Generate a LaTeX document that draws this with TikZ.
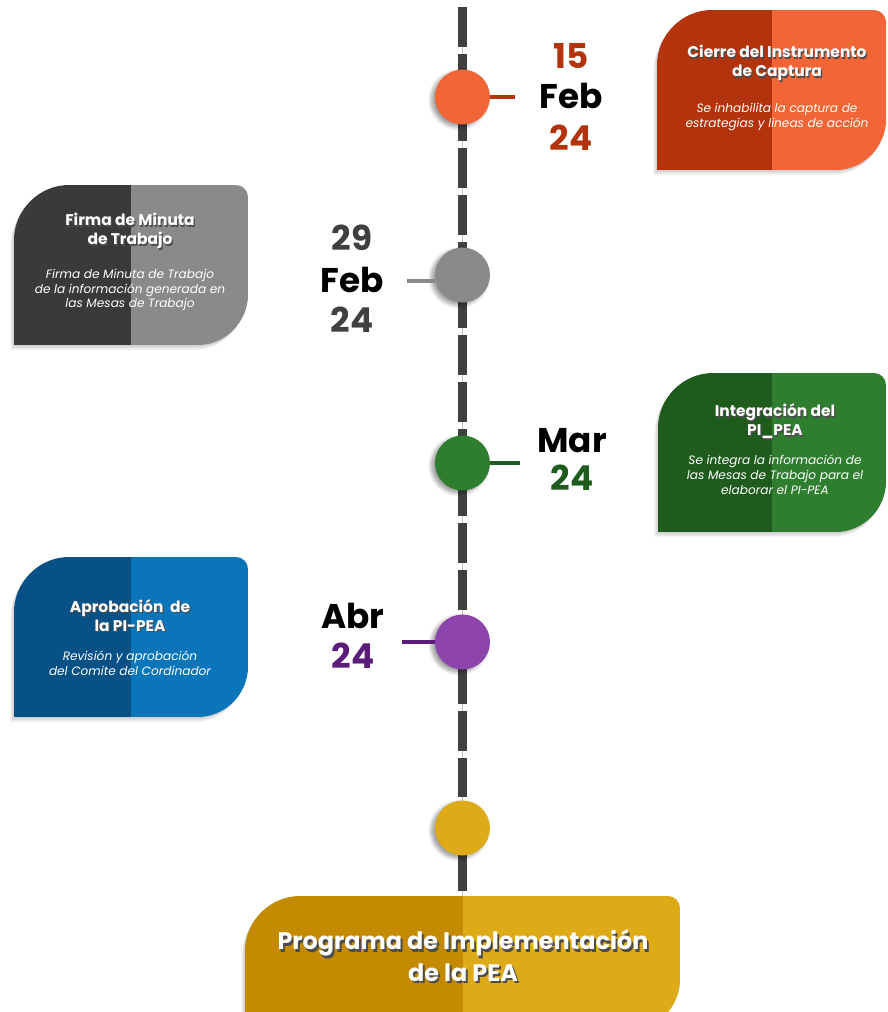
\documentclass[tikz,border=0pt]{standalone}
\usepackage{fontspec}
\setmainfont{Poppins}
\usetikzlibrary{shadows.blur}

\definecolor{lineagris}{HTML}{404040}
\definecolor{naranja}{HTML}{F26536}
\definecolor{naranjaosc}{HTML}{B3330C}
\definecolor{gris}{HTML}{8A8A8A}
\definecolor{grisosc}{HTML}{3B3A3A}
\definecolor{verde}{HTML}{2F7E2F}
\definecolor{verdeosc}{HTML}{1E5B1D}
\definecolor{azul}{HTML}{0B75BA}
\definecolor{azulosc}{HTML}{075186}
\definecolor{morado}{HTML}{8E44AD}
\definecolor{moradoosc}{HTML}{5B1C7B}
\definecolor{oro}{HTML}{DEAB18}
\definecolor{orooscuro}{HTML}{C48A02}

\newcommand{\sombra}[1]{\leavevmode\rlap{\kern0.08em\raisebox{-0.1em}{\textcolor{black!70}{#1}}}#1}

% caja con esquinas redondeadas arriba-izquierda y abajo-derecha
\newcommand{\hoja}[6]{%
  \pgfmathsetmacro{\mitad}{(#1+#3)/2}
  \foreach \s in {1,...,5}{
    \fill[black,opacity=0.04,xshift=-\s*0.4pt,yshift=-\s*0.6pt] (#1,#4) -- (#1,#2+55) .. controls +(0,-30) and +(-30,0) .. (#1+55,#2) -- (#3-12,#2) .. controls +(6.6,0) and +(0,-6.6) .. (#3,#2+12) -- (#3,#4-50) .. controls +(0,27) and +(27,0) .. (#3-50,#4) -- cycle;
  }
  \begin{scope}
    \clip (#1,#4) -- (#1,#2+55) .. controls +(0,-30) and +(-30,0) .. (#1+55,#2) -- (#3-12,#2) .. controls +(6.6,0) and +(0,-6.6) .. (#3,#2+12) -- (#3,#4-50) .. controls +(0,27) and +(27,0) .. (#3-50,#4) -- cycle;
    \fill[#5] (#1,#2) rectangle (\mitad,#4);
    \fill[#6] (\mitad,#2) rectangle (#3,#4);
  \end{scope}}

\begin{document}
\begin{tikzpicture}[x=0.02cm,y=-0.02cm,
  punto/.style={circle,minimum size=1.1cm,inner sep=0pt,
    blur shadow={shadow xshift=-2pt,shadow yshift=-1.5pt,shadow blur steps=6,shadow opacity=40}},
  enlace/.style={line width=2.2pt},
  linea/.style={line width=4.6pt,lineagris,dash pattern=on 22.7pt off 4pt},
  fecha/.style={font=\fontsize{19.5}{22}\selectfont\bfseries,anchor=base},
  titulo/.style={text=white,align=center,font=\fontsize{8.8}{10.9}\selectfont\bfseries},
  texto/.style={text=white,align=center,font=\fontsize{6.9}{8.5}\selectfont\itshape}]
  \useasboundingbox (0,0) rectangle (887,1012);

  \hoja{657}{10}{886}{170}{naranjaosc}{naranja}
  \hoja{14}{185}{248}{345}{grisosc}{gris}
  \hoja{658}{373}{886}{532}{verdeosc}{verde}
  \hoja{14}{557}{248}{717}{azulosc}{azul}
  \hoja{245}{896}{680}{1030}{orooscuro}{oro}

  \coordinate (arriba) at (462.5,7);
  \coordinate (abajo) at (462.5,896);
  \draw[black!25,line width=0.6pt] (arriba) -- (abajo);
  \draw[linea] (arriba) -- (abajo);

  \foreach \n/\y/\c in {p1/97/naranja, p2/275/gris, p3/463/verde, p4/642/morado, p5/828/oro}
    \node[punto,fill=\c] (\n) at (462.5,\y) {};

  \coordinate (f1) at (515,97);
  \coordinate (f2) at (407,281);
  \coordinate (f3) at (520,463);
  \coordinate (f4) at (402,642);
  \draw[enlace,naranjaosc] (p1.east) -- (f1);
  \draw[enlace,gris] (p2.west |- f2) -- (f2);
  \draw[enlace,verdeosc] (p3.east) -- (f3);
  \draw[enlace,moradoosc] (p4.west) -- (f4);

  \node[fecha,text=naranjaosc] (dia1) at (571,68) {15};
  \node[fecha] (mes1) at (571,108) {Feb};
  \node[fecha,text=naranjaosc] (anio1) at (571,150) {24};
  \node[fecha,text=lineagris] (dia2) at (352,250) {29};
  \node[fecha] (mes2) at (352,292) {Feb};
  \node[fecha,text=lineagris] (anio2) at (352,332) {24};
  \node[fecha] (mes3) at (572,452) {Mar};
  \node[fecha,text=verdeosc] (anio3) at (572,490) {24};
  \node[fecha] (mes4) at (353,628) {Abr};
  \node[fecha,text=moradoosc] (anio4) at (353,668) {24};

  \node[titulo] (t1) at (777,64) {\sombra{Cierre del Instrumento}\\\sombra{de Captura}};
  \node[texto] (s1) at (777,117) {Se inhabilita la captura de\\estrategias y lineas de acción};
  \node[titulo] (t2) at (130,232) {\sombra{Firma de Minuta}\\\sombra{de Trabajo}};
  \node[texto] (s2) at (130,290) {Firma de Minuta de Trabajo\\de la información generada en\\las Mesas de Trabajo};
  \node[titulo] (t3) at (775,422) {\sombra{Integración del}\\\sombra{PI\_PEA}};
  \node[texto] (s3) at (775,475) {Se integra la información de\\las Mesas de Trabajo para el\\elaborar el PI-PEA};
  \node[titulo] (t4) at (130,616) {\sombra{Aprobación~ de}\\\sombra{la PI-PEA}};
  \node[texto] (s4) at (130,663) {Revisión y aprobación\\del Comite del Cordinador};
  \node[titulo,font=\fontsize{13.6}{18}\selectfont\bfseries] (t5) at (463,957) {\sombra{Programa de Implementación}\\\sombra{de la PEA}};
\end{tikzpicture}
\end{document}
